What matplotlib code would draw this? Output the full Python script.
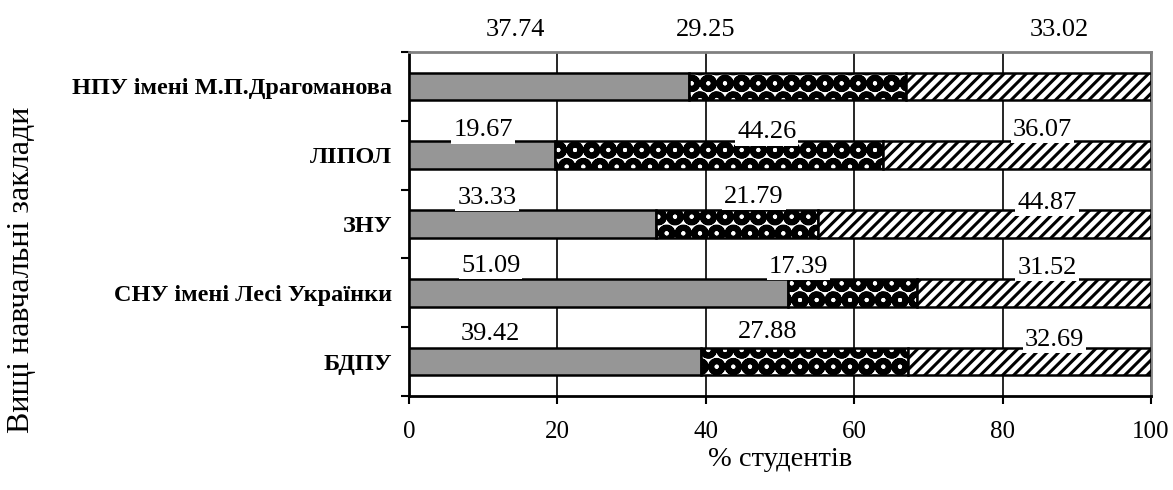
import matplotlib
matplotlib.use("Agg")
import matplotlib.pyplot as plt
import numpy as np

plt.rcParams['font.family'] = ['Liberation Serif', 'DejaVu Serif']

categories = ["НПУ імені М.П.Драгоманова", "ЛІПОЛ", "ЗНУ",
              "СНУ імені Лесі Українки", "БДПУ"]
series1 = [37.74, 19.67, 33.33, 51.09, 39.42]
series2 = [29.25, 44.26, 21.79, 17.39, 27.88]
series3 = [33.02, 36.07, 44.87, 31.52, 32.69]
x_ticks = [0, 20, 40, 60, 80, 100]
x_label = "% студентів"
y_label = "Вищі навчальні заклади"

# label layout (x in data units, y offset in category units)
label_x = [[14.4, 40.0, 87.6],
           [10.0, 48.2, 85.4],
           [10.5, 46.5, 86.0],
           [11.0, 52.5, 86.0],
           [11.0, 48.4, 87.0]]
label_dy = [[-0.82, -0.82, -0.82],
            [-0.36, -0.33, -0.37],
            [-0.38, -0.39, -0.30],
            [-0.39, -0.38, -0.36],
            [-0.40, -0.43, -0.31]]

fig = plt.figure(figsize=(11.73, 4.90), dpi=100)
ax = fig.add_axes([409/1173, 94/490, 742/1173, 344/490])

y = np.arange(len(categories))
s1 = np.array(series1); s2 = np.array(series2); s3 = np.array(series3)
h = 0.4

ax.barh(y, s1, height=h, color='#969696', edgecolor='black', linewidth=1.8, zorder=3)
plt.rcParams['hatch.linewidth'] = 4.2
ax.barh(y, s2, left=s1, height=h, color='white', edgecolor='black',
        hatch='O', linewidth=1.8, zorder=3)
plt.rcParams['hatch.linewidth'] = 2.2
ax.barh(y, s3, left=s1 + s2, height=h, color='white', edgecolor='black',
        hatch='///', linewidth=1.8, zorder=3)

for i in range(len(categories)):
    for j, v in enumerate([series1[i], series2[i], series3[i]]):
        ax.text(label_x[i][j], y[i] + label_dy[i][j], f"{v:.2f}",
                ha='center', va='center', fontsize=19, zorder=5,
                bbox=dict(facecolor='white', edgecolor='none', pad=1.5),
                clip_on=False)

ax.set_xlim(0, 100)
ax.set_ylim(len(categories) - 0.5, -0.5)
ax.set_xticks(x_ticks)
ax.set_xticklabels([str(t) for t in x_ticks], fontsize=18)
ax.set_yticks(np.arange(len(categories) + 1) - 0.5, minor=False)
ax.set_yticklabels([''] * (len(categories) + 1))
ax.set_yticks(y, minor=True)
ax.set_yticklabels(categories, minor=True, fontsize=17.5, fontweight='bold')
ax.tick_params(axis='y', which='minor', length=0, pad=12)
ax.tick_params(axis='y', which='major', length=6, width=1.5, direction='out')
ax.tick_params(axis='x', length=6, width=1.5, direction='out', pad=12)

ax.xaxis.grid(True, color='black', linewidth=1.2, zorder=0)
ax.set_axisbelow(True)

for side in ['left', 'bottom']:
    ax.spines[side].set_linewidth(2)
    ax.spines[side].set_color('black')
for side in ['top', 'right']:
    ax.spines[side].set_linewidth(2)
    ax.spines[side].set_color('#808080')

ax.set_xlabel(x_label, fontsize=20.5, labelpad=3)
fig.text(22/1173, 1 - 270/490, y_label, rotation=90, fontsize=23,
         ha='center', va='center')

fig.savefig("out.png", dpi=100)
